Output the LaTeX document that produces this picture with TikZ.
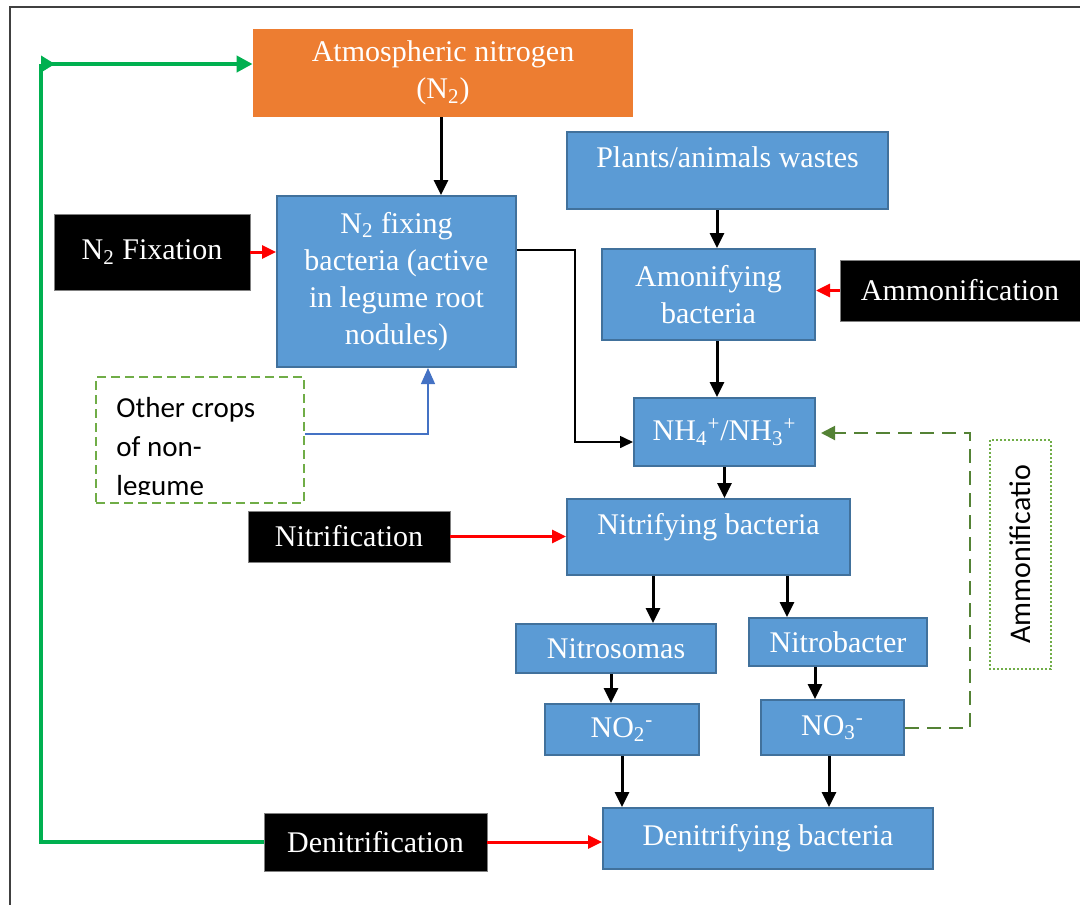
\documentclass[tikz,border=0pt]{standalone}
\usepackage{fontspec}
\setmainfont{Liberation Serif}
\newfontfamily\calfont{Carlito}
\usepackage{tikz}
\usetikzlibrary{positioning,arrows.meta}
\definecolor{BoxBlue}{RGB}{91,155,213}
\definecolor{BoxEdge}{RGB}{65,113,156}
\definecolor{AtmOrange}{RGB}{237,125,49}
\definecolor{CycGreen}{RGB}{0,176,80}
\definecolor{DashGreen}{RGB}{84,130,53}
\definecolor{DotGreen}{RGB}{112,173,71}
\definecolor{LinkBlue}{RGB}{68,114,196}
\newcommand{\boxfont}{\fontsize{15}{18.5}\selectfont}
\newcommand{\calbfont}{\calfont\fontsize{14.5}{19.5}\selectfont}

\begin{document}
\begin{tikzpicture}[x=0.5pt,y=-0.5pt]
	\tikzset{
		bx/.style={draw=BoxEdge, fill=BoxBlue, line width=1pt, text=white,
			font=\boxfont, align=center, inner sep=1pt},
		atmbox/.style={fill=AtmOrange, text=white, font=\boxfont, align=center, inner sep=1pt},
		lbl/.style={draw=gray, fill=black, line width=0.4pt, text=white,
			font=\boxfont, inner sep=1pt},
		ar/.style={-{Triangle[length=7.5pt,width=7pt]}, line width=1.5pt},
		thinar/.style={-{Triangle[length=6.5pt,width=6pt]}, line width=0.8pt},
		rar/.style={-{Triangle[length=7pt,width=6.5pt]}, draw=red, line width=1.5pt},
		cyc/.style={draw=CycGreen, line width=2pt},
		blar/.style={-{Triangle[length=8pt,width=7pt]}, draw=LinkBlue, line width=0.6pt},
		dshar/.style={-{Triangle[length=7pt,width=7pt]}, draw=DashGreen, line width=1pt,
			dash pattern=on 7pt off 4pt},
		cropbox/.style={draw=DotGreen, line width=1pt, dash pattern=on 4.5pt off 2.5pt},
		dotbox/.style={draw=DotGreen, line width=1pt, dash pattern=on 1pt off 1pt,
			font=\calfont\fontsize{15}{18}\selectfont}
	}
	\useasboundingbox (0,0) rectangle (1080,905);
	\draw[line width=1pt, draw=black!75] (1080,7) -- (10,7) -- (10,905);
	
	% ======= Boxes =======
	\node[atmbox, minimum width=190pt, minimum height=44pt] (atm) at (443,73)
		{Atmospheric nitrogen\\(N\textsubscript{2})};
	\node[bx, minimum width=119.5pt, minimum height=85.5pt] (fix) at (396.5,281.5)
		{N\textsubscript{2} fixing\\bacteria (active\\in legume root\\nodules)};
	\node[lbl, minimum width=98pt, minimum height=38pt] (nfix) at (152,252)
		{N\textsubscript{2} Fixation};
	\node[bx, minimum width=160.5pt, minimum height=38.5pt, text depth=13pt] (waste) at (727.5,170.5)
		{Plants/animals wastes};
	\node[bx, minimum width=106.5pt, minimum height=45.5pt] (amon) at (708.5,294.5)
		{Amonifying\\bacteria};
	\node[lbl, minimum width=120pt, minimum height=30.5pt] (ammo) at (960,290.5)
		{Ammonification};
	\node[bx, minimum width=90.5pt, minimum height=34pt] (nh) at (724.5,432)
		{NH\textsubscript{4}\textsuperscript{+}/NH\textsubscript{3}\textsuperscript{+}};
	\node[cropbox, minimum width=104pt, minimum height=63pt] (crops) at (200,440) {};
	\begin{scope}
		\clip (crops.north west) rectangle ([yshift=5pt]crops.south east);
		\node[font=\calbfont, align=left, inner sep=0pt, anchor=north west] (cropstxt)
			at ([xshift=10.5pt,yshift=-10.5pt]crops.north west) {Other crops\\of non-\\legume};
	\end{scope}
	\node[bx, minimum width=141.5pt, minimum height=38pt, text depth=13pt] (nitr) at (708.5,537)
		{Nitrifying bacteria};
	\node[lbl, minimum width=101pt, minimum height=25.5pt] (nitrif) at (349,536.5)
		{Nitrification};
	\node[bx, minimum width=100pt, minimum height=24.5pt] (nsom) at (616,648.5) {Nitrosomas};
	\node[bx, minimum width=89pt, minimum height=24pt] (nbac) at (838,642) {Nitrobacter};
	\node[bx, minimum width=77pt, minimum height=25.5pt] (no2) at (622,729.5)
		{NO\textsubscript{2}\textsuperscript{-}};
	\node[bx, minimum width=71.5pt, minimum height=27.5pt] (no3) at (832.5,727.5)
		{NO\textsubscript{3}\textsuperscript{-}};
	\node[bx, minimum width=165pt, minimum height=30.5pt] (denb) at (768,838.5)
		{Denitrifying bacteria};
	\node[lbl, minimum width=111.5pt, minimum height=29pt] (denit) at (375.5,842)
		{Denitrification};
	\node[dotbox, rotate=90, minimum width=114.5pt, minimum height=30.5pt] (amtag) at (1020.5,554.5)
		{Ammonificatio};
	\coordinate (turn) at (41,64);
	
	% ======= Connectors =======
	\draw[ar] (atm.south -| 441,0) -- (fix.north -| 441,0);
	\draw[rar] (nfix.east) -- (nfix.east -| fix.west);
	\draw[ar] (waste.south -| 717,0) -- (amon.north -| 717,0);
	\draw[rar] (ammo.west) -- (ammo.west -| amon.east);
	\draw[ar] (amon.south -| 717,0) -- (nh.north -| 717,0);
	\draw[thinar] (fix.east |- 0,250) -| (575,442) -- (nh.west |- 0,442);
	\draw[blar] (crops.east |- 0,434) -| (fix.south -| 428,0);
	\draw[ar] (nh.south) -- (nh.south |- nitr.north);
	\draw[rar] (nitrif.east) -- (nitrif.east -| nitr.west);
	\draw[ar] (nitr.south -| 653,0) -- (nsom.north -| 653,0);
	\draw[ar] (nitr.south -| 787,0) -- (nbac.north -| 787,0);
	\draw[ar] (nsom.south -| 611,0) -- (no2.north -| 611,0);
	\draw[ar] (nbac.south -| 815,0) -- (no3.north -| 815,0);
	\draw[ar] (no2.south) -- (no2.south |- denb.north);
	\draw[ar] (no3.south -| 829,0) -- (denb.north -| 829,0);
	\draw[rar] (denit.east) -- (denit.east -| denb.west);
	\draw[dshar, shorten >=2.5pt] (no3.east) -| (970,433) -- (nh.east |- 0,433);
	\draw[cyc] (denit.west) -| (turn);
	\draw[cyc, {Triangle[reversed,length=7pt,width=8pt]}-{Triangle[length=8pt,width=8pt]}]
		(turn) -- (turn -| atm.west);
\end{tikzpicture}
\end{document}
